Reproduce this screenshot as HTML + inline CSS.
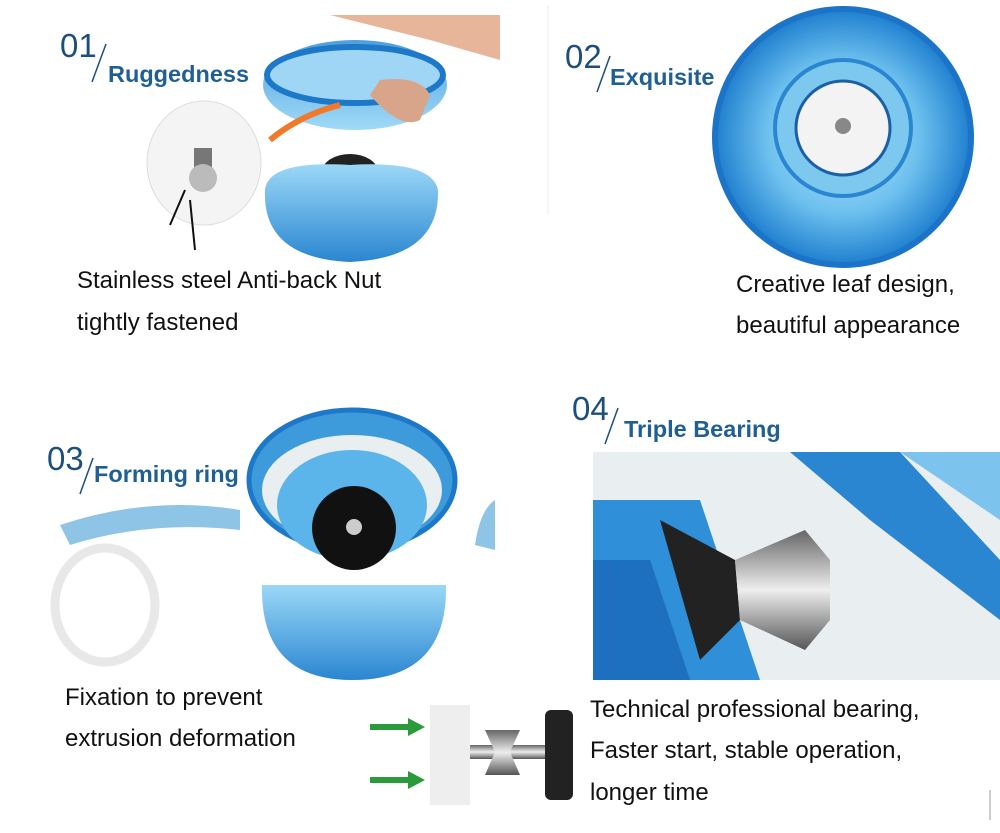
<!DOCTYPE html>
<html><head><meta charset="utf-8"><style>
html,body{margin:0;padding:0;background:#fff;width:1000px;height:833px;overflow:hidden}
svg{display:block}
.num{font-family:"Liberation Sans",sans-serif;font-size:33px;fill:#1d4f7c}
.ttl{font-family:"Liberation Sans",sans-serif;font-size:23.5px;font-weight:bold;fill:#1f5f94}
.txt{font-family:"Liberation Sans",sans-serif;font-size:24px;fill:#111}
</style></head><body>
<svg width="1000" height="833" viewBox="0 0 1000 833">
<defs>
<radialGradient id="bl" cx="50%" cy="50%" r="50%">
<stop offset="0" stop-color="#bfe6fb"/><stop offset="0.6" stop-color="#6cc0ee"/><stop offset="1" stop-color="#1f7fcf"/></radialGradient>
<linearGradient id="cup" x1="0" y1="0" x2="0" y2="1"><stop offset="0" stop-color="#2d8fd8"/><stop offset="1" stop-color="#8fd3f5"/></linearGradient>
<linearGradient id="cup2" x1="0" y1="0" x2="0" y2="1"><stop offset="0" stop-color="#9bd8f7"/><stop offset="1" stop-color="#2a86d0"/></linearGradient>
<linearGradient id="met" x1="0" y1="0" x2="0" y2="1"><stop offset="0" stop-color="#666"/><stop offset="0.5" stop-color="#eee"/><stop offset="1" stop-color="#555"/></linearGradient>
</defs>
<rect width="1000" height="833" fill="#fff"/>
<line x1="548" y1="5" x2="548" y2="215" stroke="#eee"/>

<!-- panel 1 -->
<text class="num" x="60" y="57">01</text>
<line x1="92" y1="82" x2="106" y2="44" stroke="#1d4f7c" stroke-width="1.5"/>
<text class="ttl" x="108" y="82">Ruggedness</text>
<path d="M330 15 L500 15 L500 60 L430 40 Z" fill="#e6b59a"/>
<ellipse cx="355" cy="85" rx="92" ry="45" fill="url(#cup)" opacity="0.85"/>
<ellipse cx="355" cy="75" rx="88" ry="28" fill="#9fd6f5" stroke="#1e78c8" stroke-width="6"/>
<path d="M370 95 Q400 130 420 120 L430 95 Q420 75 380 80Z" fill="#d9a58a"/>
<path d="M340 105 Q300 115 270 140" stroke="#f07a2a" stroke-width="6" fill="none"/>
<ellipse cx="350" cy="172" rx="28" ry="18" fill="#222"/>
<path d="M265 190 Q268 160 350 165 Q432 160 438 190 Q440 258 350 262 Q262 258 265 190Z" fill="url(#cup2)"/>
<ellipse cx="204" cy="163" rx="57" ry="62" fill="#f4f4f4" stroke="#ddd"/>
<rect x="194" y="148" width="18" height="24" fill="#777"/>
<circle cx="203" cy="178" r="14" fill="#bbb"/>
<path d="M185 190 L170 225 M190 200 L195 250" stroke="#111" stroke-width="2" fill="none"/>
<text class="txt" x="77" y="288">Stainless steel Anti-back Nut</text>
<text class="txt" x="77" y="330">tightly fastened</text>

<!-- panel 2 -->
<text class="num" x="565" y="68">02</text>
<line x1="597" y1="92" x2="610" y2="56" stroke="#1d4f7c" stroke-width="1.5"/>
<text class="ttl" x="610" y="85">Exquisite</text>
<circle cx="843" cy="137" r="128" fill="url(#bl)" stroke="#1b74c8" stroke-width="6"/>
<circle cx="843" cy="128" r="68" fill="#7cc8ef" stroke="#2a86d0" stroke-width="4"/>
<circle cx="843" cy="128" r="47" fill="#f3f3f3" stroke="#1a5fa8" stroke-width="3"/>
<circle cx="843" cy="126" r="8" fill="#888"/>
<text class="txt" x="736" y="292">Creative leaf design,</text>
<text class="txt" x="736" y="333">beautiful appearance</text>

<!-- panel 3 -->
<text class="num" x="47" y="470">03</text>
<line x1="80" y1="494" x2="93" y2="458" stroke="#1d4f7c" stroke-width="1.5"/>
<text class="ttl" x="94" y="482">Forming ring</text>
<ellipse cx="105" cy="605" rx="50" ry="57" fill="none" stroke="#e8e8e8" stroke-width="9"/>
<path d="M60 525 Q150 495 240 510 L240 530 Q150 520 70 545Z" fill="#8ec4e6"/>
<path d="M475 545 Q480 510 495 500 L495 550Z" fill="#8ec4e6"/>
<path d="M262 585 Q260 680 352 680 Q448 680 446 585Z" fill="url(#cup2)"/>
<ellipse cx="352" cy="480" rx="103" ry="70" fill="#3d9bdc" stroke="#1e78c8" stroke-width="5"/>
<ellipse cx="352" cy="490" rx="90" ry="55" fill="#e9eef0"/>
<ellipse cx="352" cy="505" rx="75" ry="55" fill="#5bb5ea"/>
<ellipse cx="354" cy="528" rx="42" ry="42" fill="#111"/>
<circle cx="354" cy="527" r="8" fill="#ccc"/>
<text class="txt" x="65" y="705">Fixation to prevent</text>
<text class="txt" x="65" y="746">extrusion deformation</text>

<!-- panel 4 -->
<text class="num" x="572" y="420">04</text>
<line x1="605" y1="444" x2="618" y2="408" stroke="#1d4f7c" stroke-width="1.5"/>
<text class="ttl" x="624" y="437">Triple Bearing</text>
<rect x="593" y="452" width="407" height="228" fill="#e9eef0"/>
<path d="M593 500 L700 500 L760 680 L593 680Z" fill="#2f8fd8"/>
<path d="M593 560 L650 560 L690 680 L593 680Z" fill="#1d6fc0"/>
<path d="M790 452 L900 452 L1000 560 L1000 620 L870 520Z" fill="#2a86d0"/>
<path d="M900 452 L1000 452 L1000 520Z" fill="#7cc3ee"/>
<path d="M660 520 L735 560 L740 620 L700 660Z" fill="#222"/>
<path d="M735 560 L805 530 L830 560 L830 620 L805 650 L740 620Z" fill="url(#met)"/>
<text class="txt" x="590" y="717">Technical professional bearing,</text>
<text class="txt" x="590" y="758">Faster start, stable operation,</text>
<text class="txt" x="590" y="800">longer time</text>

<!-- bearing image -->
<path d="M370 727 L410 727 M370 780 L410 780" stroke="#2a9a3a" stroke-width="6"/>
<polygon points="408,718 425,727 408,736" fill="#2a9a3a"/>
<polygon points="408,771 425,780 408,789" fill="#2a9a3a"/>
<rect x="430" y="705" width="40" height="100" fill="#eee"/>
<rect x="470" y="745" width="100" height="14" fill="url(#met)"/>
<path d="M485 730 L520 730 L510 752 L520 775 L485 775 L495 752Z" fill="url(#met)"/>
<rect x="545" y="710" width="28" height="90" rx="6" fill="#222"/>
<line x1="990" y1="790" x2="990" y2="820" stroke="#999"/>
</svg>
</body></html>
